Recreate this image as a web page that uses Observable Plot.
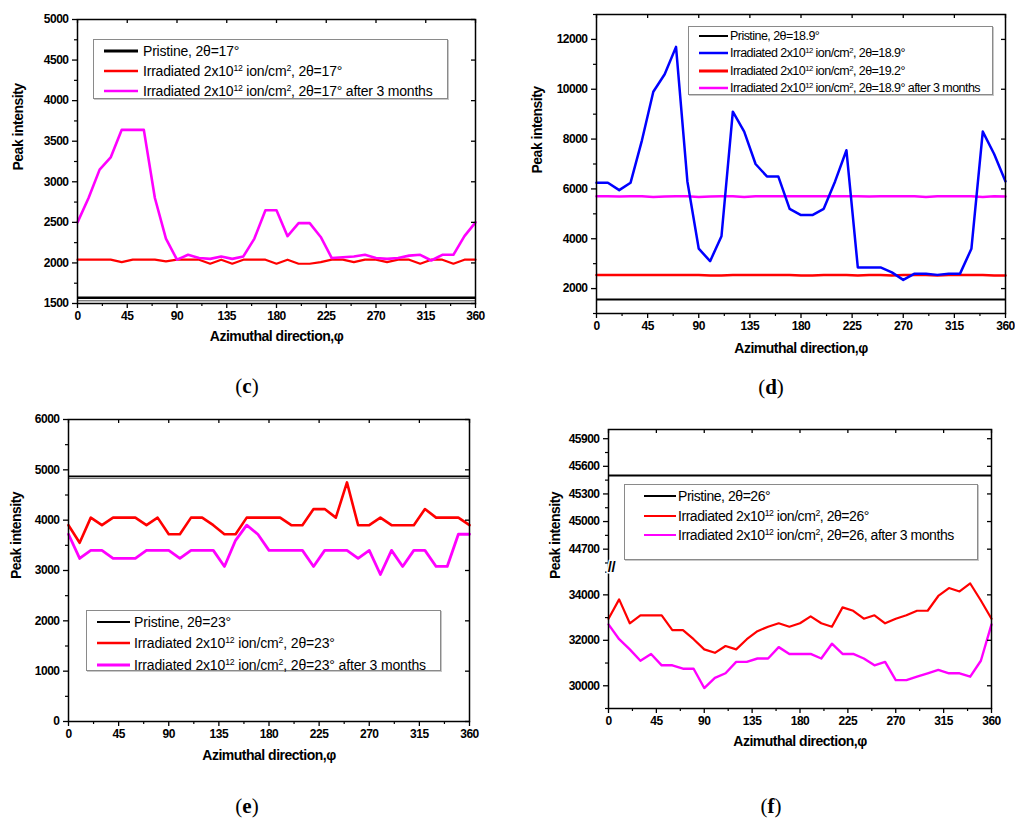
<!DOCTYPE html>
<html>
<head>
<meta charset="utf-8">
<script src="https://cdn.jsdelivr.net/npm/d3@7"></script>
<script src="https://cdn.jsdelivr.net/npm/@observablehq/plot@0.6"></script>
<style>
  body { margin: 0; background: #fff; }
  #fig { position: relative; width: 1015px; height: 821px; overflow: hidden; font-family: "Liberation Sans", Arial, sans-serif; color: #000; }
  .panel { position: absolute; }
  .panel svg { overflow: visible; }
  .panel svg text { letter-spacing: -0.5px; }
  .legend { position: absolute; box-sizing: border-box; border: 1px solid #8a8a8a; box-shadow: 1px 1px 0 #c8c8c8; background: #fff; }
  .legend .row { display: flex; align-items: center; white-space: nowrap; }
  .legend .sw { flex: none; }
  .legend sup { font-size: 62%; line-height: 0; vertical-align: 0.55em; }
  .cap { position: absolute; transform: translateX(-50%); font-family: "Liberation Serif", "Times New Roman", serif; font-size: 21px; line-height: 1; }
</style>
</head>
<body>
<div id="fig"></div>
<script>
// ---------- shared axis data ----------
const phi = [0,10,20,30,40,50,60,70,80,90,100,110,120,130,140,150,160,170,180,190,200,210,220,230,240,250,260,270,280,290,300,310,320,330,340,350,360];
const xTicks = [0,45,90,135,180,225,270,315,360];
const xMinorTicks = [22.5,67.5,112.5,157.5,202.5,247.5,292.5,337.5];
const xTitle = "Azimuthal direction,φ";
const yTitle = "Peak intensity";

// ---------- panel (c): 2θ = 17° ----------
const cPristine = 1570;
const cIrr = [2040,2040,2040,2040,2010,2040,2040,2040,2020,2040,2040,2040,1990,2040,1990,2040,2040,2040,1990,2040,1990,1990,2010,2040,2040,2010,2040,2040,2010,2040,2040,1990,2040,2040,1990,2040,2040];
const cAfter = [2500,2800,3150,3300,3640,3640,3640,2800,2300,2040,2100,2060,2050,2080,2050,2080,2300,2650,2650,2330,2490,2490,2320,2060,2070,2080,2100,2060,2050,2060,2090,2100,2030,2100,2100,2330,2500];
const cYTicks = [1500,2000,2500,3000,3500,4000,4500,5000];
const cNames = ["Pristine, 2θ=17°", "Irradiated 2x10<sup>12</sup> ion/cm<sup>2</sup>, 2θ=17°", "Irradiated 2x10<sup>12</sup> ion/cm<sup>2</sup>, 2θ=17° after 3 months"];

// ---------- panel (d): 2θ = 18.9° / 19.2° ----------
const dPristine = 1560;
const dIrr189 = [6250,6250,5950,6250,7950,9900,10600,11700,6300,3600,3100,4100,9100,8300,7000,6500,6500,5200,4950,4950,5200,6300,7550,2850,2850,2850,2650,2350,2600,2600,2550,2600,2600,3600,8300,7400,6300];
const dIrr192 = [2550,2550,2550,2550,2550,2550,2550,2550,2550,2550,2530,2530,2550,2550,2550,2550,2550,2550,2530,2530,2550,2550,2550,2530,2550,2550,2530,2550,2550,2550,2530,2550,2550,2550,2550,2530,2530];
const dAfter = [5710,5710,5700,5710,5710,5680,5700,5710,5710,5680,5700,5710,5710,5680,5710,5710,5710,5710,5710,5710,5710,5710,5710,5710,5700,5710,5710,5710,5710,5680,5710,5710,5710,5710,5680,5710,5700];
const dYTicks = [2000,4000,6000,8000,10000,12000];
const dNames = ["Pristine, 2θ=18.9°", "Irradiated 2x10<sup>12</sup> ion/cm<sup>2</sup>, 2θ=18.9°", "Irradiated 2x10<sup>12</sup> ion/cm<sup>2</sup>, 2θ=19.2°", "Irradiated 2x10<sup>12</sup> ion/cm<sup>2</sup>, 2θ=18.9° after 3 months"];

// ---------- panel (e): 2θ = 23° ----------
const ePristine = 4870;
const eIrr = [3900,3550,4050,3900,4050,4050,4050,3900,4050,3720,3720,4050,4050,3900,3720,3720,4050,4050,4050,4050,3900,3900,4220,4220,4050,4750,3900,3900,4050,3900,3900,3900,4220,4050,4050,4050,3900];
const eAfter = [3720,3240,3400,3400,3240,3240,3240,3400,3400,3400,3240,3400,3400,3400,3080,3600,3900,3720,3400,3400,3400,3400,3080,3400,3400,3400,3240,3400,2920,3400,3080,3400,3400,3080,3080,3720,3720];
const eYTicks = [0,1000,2000,3000,4000,5000,6000];
const eNames = ["Pristine, 2θ=23°", "Irradiated 2x10<sup>12</sup> ion/cm<sup>2</sup>, 2θ=23°", "Irradiated 2x10<sup>12</sup> ion/cm<sup>2</sup>, 2θ=23° after 3 months"];

// ---------- panel (f): 2θ = 26° (broken axis) ----------
const fPristine = 45500;
const fIrr = [32950,33800,32750,33100,33100,33100,32450,32450,32050,31600,31450,31750,31600,32050,32400,32600,32750,32600,32750,33050,32750,32600,33450,33300,32950,33100,32750,32950,33100,33300,33300,33950,34300,34150,34500,33750,32950];
const fAfter = [32700,32050,31600,31100,31400,30900,30900,30750,30750,29900,30350,30550,31050,31050,31200,31200,31700,31400,31400,31400,31200,31850,31400,31400,31200,30900,31050,30250,30250,30400,30550,30700,30550,30550,30400,31100,32700];
const fYTicks = [30000,32000,34000,44700,45000,45300,45600,45900];
const fYMinor = [29000,31000,33000,35000,44550,44850,45150,45450,45750];
// axis break: lower segment 29000–35200, upper segment 44500–46000 (upper stretched ×4.05)
const fLow = [29000, 35200], fHigh = [44500, 46000], fStretch = 4.05;
const fBreak = v => v <= fLow[1] ? v : fLow[1] + (v - fHigh[0]) * fStretch;
const fNames = ["Pristine, 2θ=26°", " Irradiated 2x10<sup>12</sup> ion/cm<sup>2</sup>, 2θ=26°", " Irradiated 2x10<sup>12</sup> ion/cm<sup>2</sup>, 2θ=26, after 3 months"];

const BLACK = "#000", RED = "#ff0000", MAGENTA = "#ff00ff", BLUE = "#0000ff";

function drawPanel(o) {
  const innerW = o.width - o.mL - o.mR, innerH = o.height - o.mT - o.mB;
  const rows = vals => phi.map((p, i) => ({phi: p, v: vals[i]}));
  return Plot.plot({
    width: o.width, height: o.height,
    marginTop: o.mT, marginRight: o.mR, marginBottom: o.mB, marginLeft: o.mL,
    style: {fontFamily: '"Liberation Sans", Arial, sans-serif', fontSize: "12px", background: "transparent", color: "#000"},
    x: {domain: [0, 360]},
    y: o.yScale,
    marks: [
      ...o.pristine.map(p => Plot.ruleY([p.value], {stroke: p.color, strokeWidth: p.w, dy: p.dy || 0})),
      ...o.series.map(s => Plot.line(rows(s.values), {x: "phi", y: "v", stroke: s.color, strokeWidth: s.w})),
      Plot.frame({stroke: "#000", strokeWidth: 1.5}),
      Plot.axisX(xTicks, {tickSize: 5, tickPadding: 3, strokeWidth: 1.3, tickFormat: "d", label: null, fontWeight: "bold"}),
      Plot.axisX(xMinorTicks, {tickSize: 3, strokeWidth: 1.2, tickFormat: () => "", label: null}),
      Plot.axisY(o.yTicks, {tickSize: 5, tickPadding: 4, strokeWidth: 1.3, tickFormat: "d", label: null, fontWeight: "bold"}),
      Plot.axisY(o.yMinor, {tickSize: 3, strokeWidth: 1.2, tickFormat: () => "", label: null}),
      Plot.ruleY(o.yTicks, {insetLeft: innerW - 4, stroke: "#000", strokeWidth: 1.3}),
      Plot.ruleX(xTicks, {insetBottom: innerH - 4, stroke: "#000", strokeWidth: 1.3}),
      Plot.text([xTitle], {frameAnchor: "bottom", dy: o.xTitleDy, fontSize: 14, fontWeight: "bold", text: d => d}),
      Plot.text([yTitle], {frameAnchor: "left", dx: o.yTitleDx, dy: o.yTitleDy, rotate: -90, fontSize: 14, fontWeight: "bold", text: d => d}),
      ...(o.extra || [])
    ]
  });
}

function legend(o) {
  const div = document.createElement("div");
  div.className = "legend";
  Object.assign(div.style, {left: o.left + "px", top: o.top + "px", width: o.w + "px", height: o.h + "px", paddingTop: o.padTop + "px", fontSize: o.fontSize + "px", letterSpacing: o.ls + "px"});
  o.entries.forEach(e => {
    const row = document.createElement("div");
    row.className = "row";
    row.style.height = o.rowH + "px";
    row.innerHTML = `<svg class="sw" width="${o.swW}" height="6" style="margin-left:${o.padLeft}px;margin-right:${o.gap}px"><line x1="0" x2="${o.swW}" y1="3" y2="3" stroke="${e.color}" stroke-width="${e.w}"/></svg><span>${e.name}</span>`;
    div.appendChild(row);
  });
  return div;
}

function place(node, left, top) {
  const wrap = document.createElement("div");
  wrap.className = "panel";
  wrap.style.left = left + "px";
  wrap.style.top = top + "px";
  wrap.appendChild(node);
  document.getElementById("fig").appendChild(wrap);
}
function caption(letter, cx, top) {
  const d = document.createElement("div");
  d.className = "cap";
  d.style.left = cx + "px";
  d.style.top = top + "px";
  d.innerHTML = `(<b>${letter}</b>)`;
  document.getElementById("fig").appendChild(d);
}
const fig = document.getElementById("fig");

// (c)
place(drawPanel({
  width: 500, height: 360, mT: 19, mR: 25, mB: 57, mL: 77,
  yScale: {domain: [1500, 5000]},
  yTicks: cYTicks, yMinor: d3.range(1750, 5000, 500),
  pristine: [{value: cPristine, color: "#444", w: 1, dy: 3}, {value: cPristine, color: BLACK, w: 2.5}],
  series: [{values: cIrr, color: RED, w: 2.2}, {values: cAfter, color: MAGENTA, w: 2.6}],
  xTitleDy: 37, yTitleDx: -58.5, yTitleDy: 9
}), 0, 0);
fig.appendChild(legend({left: 93, top: 39, w: 355, h: 60, padTop: 1, rowH: 20, fontSize: 14, ls: -0.2, padLeft: 10, swW: 34, gap: 5,
  entries: [{name: cNames[0], color: BLACK, w: 3}, {name: cNames[1], color: RED, w: 2.5}, {name: cNames[2], color: MAGENTA, w: 2.5}]}));
caption("c", 247, 376);

// (d)
place(drawPanel({
  width: 515, height: 360, mT: 14, mR: 10, mB: 47, mL: 96,
  yScale: {domain: [1000, 13000]},
  yTicks: dYTicks, yMinor: d3.range(1000, 13001, 2000),
  pristine: [{value: dPristine, color: BLACK, w: 2}],
  series: [{values: dIrr192, color: RED, w: 2.5}, {values: dAfter, color: MAGENTA, w: 2.5}, {values: dIrr189, color: BLUE, w: 2.5}],
  xTitleDy: 39, yTitleDx: -58.5, yTitleDy: 9.5
}), 500, 0);
fig.appendChild(legend({left: 688, top: 26, w: 305, h: 69, padTop: 0.5, rowH: 17.3, fontSize: 12.5, ls: -0.55, padLeft: 10, swW: 29, gap: 2,
  entries: [{name: dNames[0], color: BLACK, w: 2}, {name: dNames[1], color: BLUE, w: 2.5}, {name: dNames[2], color: RED, w: 3}, {name: dNames[3], color: MAGENTA, w: 2.5}]}));
caption("d", 771, 377);

// (e)
place(drawPanel({
  width: 500, height: 360, mT: 19, mR: 31, mB: 39, mL: 68,
  yScale: {domain: [0, 6000]},
  yTicks: eYTicks, yMinor: d3.range(500, 6000, 1000),
  pristine: [{value: ePristine, color: "#666", w: 1, dy: 2}, {value: ePristine, color: BLACK, w: 1.8}],
  series: [{values: eIrr, color: RED, w: 2.6}, {values: eAfter, color: MAGENTA, w: 2.8}],
  xTitleDy: 38, yTitleDx: -51.5, yTitleDy: 8.5
}), 0, 400);
fig.appendChild(legend({left: 86, top: 610, w: 355, h: 61, padTop: 0, rowH: 21.5, fontSize: 14, ls: -0.15, padLeft: 10, swW: 33, gap: 4,
  entries: [{name: eNames[0], color: BLACK, w: 2}, {name: eNames[1], color: RED, w: 2.5}, {name: eNames[2], color: MAGENTA, w: 3}]}));
caption("e", 247, 796);

// (f)
place(drawPanel({
  width: 515, height: 360, mT: 29, mR: 24, mB: 52, mL: 108,
  yScale: {transform: fBreak, domain: [fLow[0], fBreak(fHigh[1])]},
  yTicks: fYTicks, yMinor: fYMinor,
  pristine: [{value: fPristine, color: BLACK, w: 2}],
  series: [{values: fIrr, color: RED, w: 2.2}, {values: fAfter, color: MAGENTA, w: 2.4}],
  xTitleDy: 37, yTitleDx: -53, yTitleDy: 10,
  extra: [Plot.text(["//"], {x: 0, y: fLow[1], dx: 3, text: d => d, fontSize: 15, fontWeight: "bold", fill: "#000", stroke: "#fff", strokeWidth: 3})]
}), 500, 400);
fig.appendChild(legend({left: 624, top: 484, w: 354, h: 76, padTop: 1.25, rowH: 19.5, fontSize: 14, ls: -0.45, padLeft: 19, swW: 32, gap: 2,
  entries: [{name: fNames[0], color: BLACK, w: 2}, {name: fNames[1], color: RED, w: 2}, {name: fNames[2], color: MAGENTA, w: 2}]}));
caption("f", 771, 796);
</script>
</body>
</html>
